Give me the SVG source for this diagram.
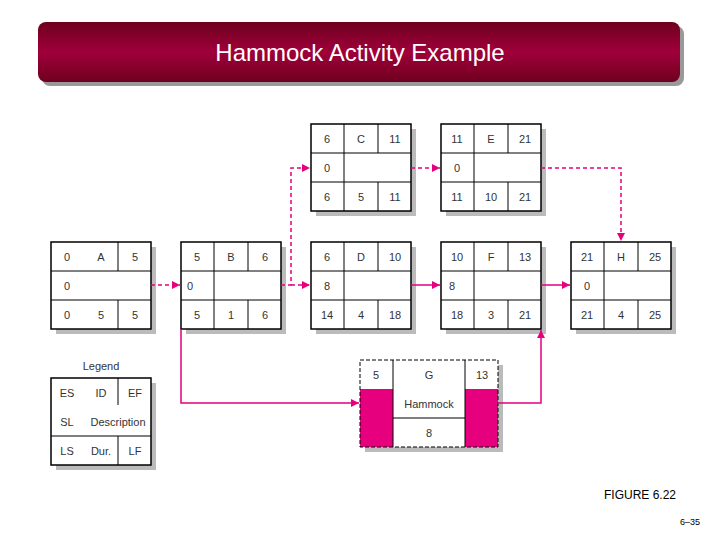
<svg xmlns="http://www.w3.org/2000/svg" width="720" height="540" viewBox="0 0 720 540">
<defs>
<linearGradient id="tg" x1="0" y1="0" x2="0" y2="1"><stop offset="0" stop-color="#6e0020"/><stop offset="0.5" stop-color="#a0003a"/><stop offset="1" stop-color="#6e0020"/></linearGradient>
<marker id="ar" viewBox="0 0 10 10" refX="10" refY="5" markerWidth="8" markerHeight="8" markerUnits="userSpaceOnUse" orient="auto"><path d="M0,0L10,5L0,10z" fill="#e6007e"/></marker>
<g id="box3">
<rect x="5" y="5" width="100" height="87" fill="#bbb"/>
<rect x="0" y="0" width="100" height="87" fill="#fff" stroke="#000" stroke-width="1.5"/>
<path d="M0,29H100M0,58H100M33,0V87M67,0V29M67,58V87" stroke="#000" fill="none"/>
</g>
</defs>
<style>
text{font-family:"Liberation Sans",Arial,sans-serif;font-size:11px;fill:#333;text-anchor:middle}
.c{fill:none;stroke:#e6007e;stroke-width:1.5}
.d{stroke-dasharray:4,3}
</style>
<rect x="42" y="26" width="642" height="60" rx="8" fill="#999"/>
<rect x="38" y="22" width="642" height="60" rx="8" fill="url(#tg)"/>
<text x="360" y="61" style="font-size:24px;fill:#fff">Hammock Activity Example</text>

<g id="A">
<rect x="56" y="247" width="100" height="87" fill="#bbb"/>
<rect x="51" y="242" width="100" height="87" fill="#fff" stroke="#000" stroke-width="1.5"/>
<path d="M51,271H151M51,300H151M118,242V271M118,300V329" stroke="#000"/>
<text x="67" y="261">0</text><text x="101" y="261">A</text><text x="135" y="261">5</text>
<text x="67" y="290">0</text>
<text x="67" y="319">0</text><text x="101" y="319">5</text><text x="135" y="319">5</text>
</g>
<g id="B"><use href="#box3" x="181" y="242"/>
<text x="197" y="261">5</text><text x="231" y="261">B</text><text x="265" y="261">6</text>
<text x="190" y="290">0</text>
<text x="197" y="319">5</text><text x="231" y="319">1</text><text x="265" y="319">6</text></g>
<g id="C"><use href="#box3" x="311" y="124"/>
<text x="327" y="143">6</text><text x="361" y="143">C</text><text x="395" y="143">11</text>
<text x="327" y="172">0</text>
<text x="327" y="201">6</text><text x="361" y="201">5</text><text x="395" y="201">11</text></g>
<g id="E"><use href="#box3" x="441" y="124"/>
<text x="457" y="143">11</text><text x="491" y="143">E</text><text x="525" y="143">21</text>
<text x="457" y="172">0</text>
<text x="457" y="201">11</text><text x="491" y="201">10</text><text x="525" y="201">21</text></g>
<g id="D"><use href="#box3" x="311" y="242"/>
<text x="327" y="261">6</text><text x="361" y="261">D</text><text x="395" y="261">10</text>
<text x="327" y="290">8</text>
<text x="327" y="319">14</text><text x="361" y="319">4</text><text x="395" y="319">18</text></g>
<g id="F"><use href="#box3" x="441" y="242"/>
<text x="457" y="261">10</text><text x="491" y="261">F</text><text x="525" y="261">13</text>
<text x="452" y="290">8</text>
<text x="457" y="319">18</text><text x="491" y="319">3</text><text x="525" y="319">21</text></g>
<g id="H"><use href="#box3" x="571" y="242"/>
<text x="587" y="261">21</text><text x="621" y="261">H</text><text x="655" y="261">25</text>
<text x="587" y="290">0</text>
<text x="587" y="319">21</text><text x="621" y="319">4</text><text x="655" y="319">25</text></g>
<g id="G">
<rect x="365" y="365" width="138" height="87" fill="#bbb"/>
<rect x="360" y="360" width="138" height="87" fill="#fff"/>
<rect x="360" y="389" width="33" height="58" fill="#e6007e"/>
<rect x="465" y="389" width="33" height="58" fill="#e6007e"/>
<rect x="360" y="360" width="138" height="87" fill="none" stroke="#000" stroke-dasharray="4,2"/>
<path d="M393,360V447M465,360V447M393,418H465" stroke="#000"/>
<text x="376" y="379">5</text><text x="429" y="379">G</text><text x="482" y="379">13</text>
<text x="429" y="408">Hammock</text><text x="429" y="437">8</text>
</g>
<g id="legend">
<text x="101" y="370">Legend</text>
<rect x="56" y="383" width="100" height="87" fill="#bbb"/>
<rect x="51" y="378" width="100" height="87" fill="#fff" stroke="#000" stroke-width="1.5"/>
<path d="M51,436H151M118,378V405M118,436V465" stroke="#000"/>
<text x="67" y="397">ES</text><text x="101" y="397">ID</text><text x="135" y="397">EF</text>
<text x="67" y="426">SL</text><text x="118" y="426">Description</text>
<text x="67" y="455">LS</text><text x="101" y="455">Dur.</text><text x="135" y="455">LF</text>
</g>
<g id="connectors">
<path class="c d" d="M151,285H180" marker-end="url(#ar)"/>
<path class="c d" d="M281,285H291V168H310" marker-end="url(#ar)"/>
<path class="c d" d="M291,285H310" marker-end="url(#ar)"/>
<path class="c" d="M411,285H440" marker-end="url(#ar)"/>
<path class="c d" d="M411,168H440" marker-end="url(#ar)"/>
<path class="c d" d="M541,168H621V241" marker-end="url(#ar)"/>
<path class="c" d="M541,285H570" marker-end="url(#ar)"/>
<path class="c" d="M181,329V403H359" marker-end="url(#ar)"/>
<path class="c" d="M498,403H541V330" marker-end="url(#ar)"/>
</g>
<text x="640" y="499" style="font-size:12px;fill:#000">FIGURE 6.22</text>
<text x="700" y="525" style="font-size:9px;fill:#000;text-anchor:end">6–35</text>
</svg>
